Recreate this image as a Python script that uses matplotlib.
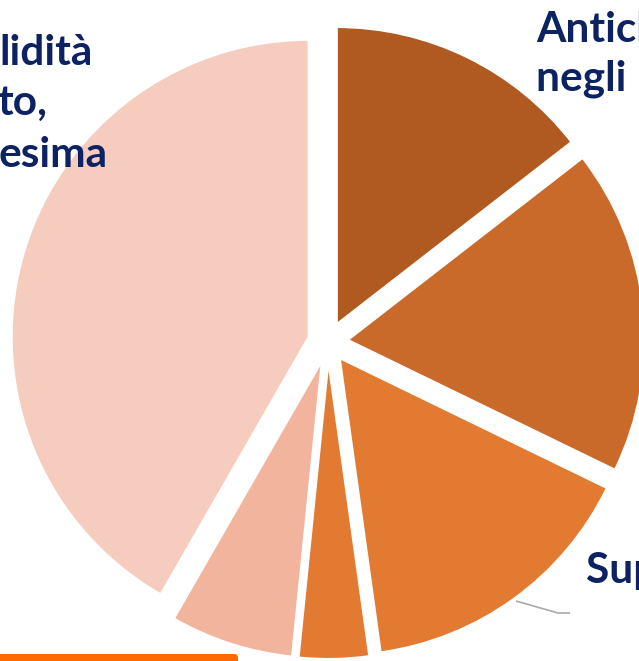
import matplotlib.pyplot as plt
from matplotlib.patches import FancyBboxPatch

# quote dei settori, in senso orario dalle ore 12
shares = [14.5, 17.7, 15.6, 3.8, 6.7, 41.7]
colors = ['#B05A22', '#C96A2A', '#E27A31', '#E27A31', '#F2B49D', '#F5CCBD']

# frammenti di etichette visibili nel ritaglio
label_right = ['Antich', 'negli u']
label_left = ['lidità', 'to,', 'esima']
label_bottom = 'Superiore'

W, H = 639, 661
NAVY = '#0D2262'

fig = plt.figure(figsize=(W / 100, H / 100), dpi=100, facecolor='white')
ax = fig.add_axes([0, 0, 1, 1])

# torta con fette staccate (explode in pixel) e bordo bianco sottile
ax.pie(shares, colors=colors, startangle=90, counterclock=False,
       center=(328, H - 342), radius=297, explode=[20] * len(shares),
       wedgeprops=dict(edgecolor='white', linewidth=1.5))

ax.set_xlim(0, W)
ax.set_ylim(0, H)
ax.set_aspect('equal')
ax.axis('off')

font = dict(family=['Lato', 'DejaVu Sans'], fontweight='bold', color=NAVY, fontsize=30.5)

# etichetta in alto a destra
for txt, yb in zip(label_right, [42, 90]):
    ax.text(536, H - yb, txt, ha='left', va='baseline', **font)

# etichetta in alto a sinistra (tagliata dal bordo)
for txt, xe, yb in zip(label_left, [93, 47, 108], [65, 115, 167]):
    ax.text(xe, H - yb, txt, ha='right', va='baseline', **font)

# etichetta in basso a destra con linea guida
ax.text(586, H - 583, label_bottom, ha='left', va='baseline', **font)
ax.plot([516, 558, 570], [H - 601, H - 613, H - 613], color='#AAAAAA', lw=1.2,
        solid_capstyle='butt')

# barra arancione in basso
ax.add_patch(FancyBboxPatch((-20, -10), 258, 17,
                            boxstyle='round,pad=0,rounding_size=4',
                            facecolor='#FF6A00', edgecolor='none'))

fig.savefig('out.png', dpi=100)
